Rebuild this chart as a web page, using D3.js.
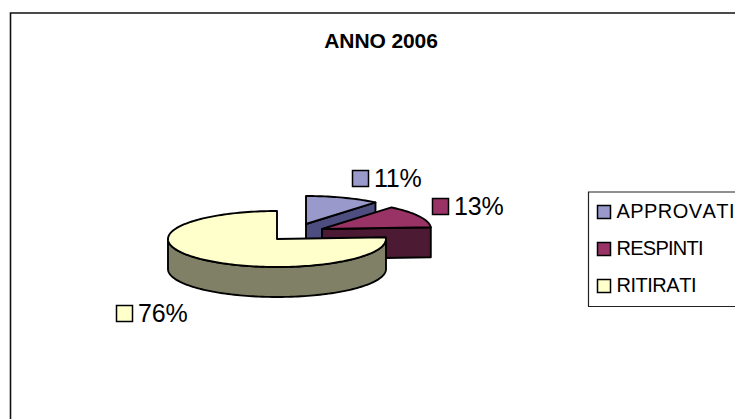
<!DOCTYPE html>
<html>
<head>
<meta charset="utf-8">
<script src="https://d3js.org/d3.v7.min.js"></script>
<style>
    html, body { margin: 0; padding: 0; background: #fff; }
    svg { display: block; }
    text { font-family: "Liberation Sans", Arial, sans-serif; fill: #000; }
</style>
</head>
<body>
<div id="graph-placeholder"></div>
<script>
var title = "ANNO 2006";
var categories = ["APPROVATI", "RESPINTI", "RITIRATI"];
var values = [11, 13, 76];
var topColors = ["#9999cc", "#993366", "#ffffcc"];
var sideColors = ["#4d4d80", "#4d1a33", "#808066"];

var width = 735, height = 419;

// pie geometry, the ellipse is the tilted disc of the 3d pie
var rx = 109, ry = 28, depth = 30,
    cx = 277, cy = 239;
var explode = [[29, -15], [45, -10], [0, 0]];
var labelPos = [[352.5, 170.5], [432.5, 198.5], [116.5, 305.5]];
var legendTextWidth = [118, 87, 80]; // the original spaces its letters unevenly

var topColor = d3.scaleOrdinal().domain(categories).range(topColors);
var sideColor = d3.scaleOrdinal().domain(categories).range(sideColors);

var svg = d3.select("#graph-placeholder")
    .append("svg")
    .attr("width", width)
    .attr("height", height);

// outer frame, runs off the right and bottom of the picture
svg.append("path")
    .attr("d", "M10.5," + height + "V13H" + width)
    .attr("fill", "none")
    .attr("stroke", "#111")
    .attr("stroke-width", 1.6);

svg.append("text")
    .attr("x", 381)
    .attr("y", 48)
    .attr("text-anchor", "middle")
    .attr("font-size", 21)
    .attr("font-weight", "bold")
    .attr("letter-spacing", -0.1)
    .text(title);

var pie = d3.pie().sort(null).value(function (d) { return d; });
var slices = pie(values);

var project = function (a, c) {
    return [c[0] + rx * Math.sin(a), c[1] - ry * Math.cos(a)];
};

var arcPoints = function (a0, a1, c, dy) {
    var n = Math.max(2, Math.ceil(Math.abs(a1 - a0) / 0.03));
    return d3.range(n + 1).map(function (i) {
        var p = project(a0 + (a1 - a0) * i / n, c);
        return [p[0], p[1] + (dy || 0)];
    });
};

var line = d3.line();
var pieG = svg.append("g")
    .attr("stroke", "#000")
    .attr("stroke-width", 1.9)
    .attr("stroke-linejoin", "round");

slices.forEach(function (s, i) {
    var c = [cx + explode[i][0], cy + explode[i][1]],
        name = categories[i];

    // cut face on the start side of the slice, seen when it looks to the right
    if (s.endAngle < Math.PI / 2) {
        var end = project(s.endAngle, c);
        pieG.append("path")
            .attr("d", line([c, end, [end[0], end[1] + depth], [c[0], c[1] + depth]]) + "Z")
            .attr("fill", sideColor(name));
    }

    // outer wall, only the front half of the disc shows
    var w0 = Math.max(s.startAngle, Math.PI / 2),
        w1 = Math.min(s.endAngle, 3 * Math.PI / 2);
    if (w0 < w1) {
        var wall = arcPoints(w0, w1, c, 0).concat(arcPoints(w1, w0, c, depth));
        pieG.append("path")
            .attr("d", line(wall) + "Z")
            .attr("fill", sideColor(name));
    }

    pieG.append("path")
        .attr("d", line([c].concat(arcPoints(s.startAngle, s.endAngle, c, 0))) + "Z")
        .attr("fill", topColor(name));
});

// data labels with their little keys
var total = d3.sum(values);
var labels = svg.append("g");
values.forEach(function (v, i) {
    labels.append("rect")
        .attr("x", labelPos[i][0])
        .attr("y", labelPos[i][1])
        .attr("width", 16)
        .attr("height", 16)
        .attr("fill", topColor(categories[i]))
        .attr("stroke", "#000")
        .attr("stroke-width", 1.5);
    labels.append("text")
        .attr("x", labelPos[i][0] + 21.5)
        .attr("y", labelPos[i][1] + 16)
        .attr("font-size", 25)
        .attr("letter-spacing", -0.2)
        .text(Math.round(v / total * 100) + "%");
});

// legend, also cut by the right edge
svg.append("path")
    .attr("d", "M" + width + ",192H588.5V306.5H" + width)
    .attr("fill", "none")
    .attr("stroke", "#222")
    .attr("stroke-width", 1.2);

var legendY = d3.scalePoint().domain(categories).range([212, 286]);
var legend = svg.selectAll(".legend-row")
    .data(categories)
    .enter()
    .append("g")
    .attr("class", "legend-row")
    .attr("transform", function (d) { return "translate(597," + legendY(d) + ")"; });

legend.append("rect")
    .attr("x", 0.5)
    .attr("y", -6.5)
    .attr("width", 13)
    .attr("height", 13)
    .attr("fill", function (d) { return topColor(d); })
    .attr("stroke", "#000")
    .attr("stroke-width", 1.5);

legend.append("text")
    .attr("x", 19.5)
    .attr("y", 6)
    .attr("font-size", 20)
    .attr("textLength", function (d, i) { return legendTextWidth[i]; })
    .attr("lengthAdjust", "spacing")
    .style("font-kerning", "none")
    .text(function (d) { return d; });
</script>
</body>
</html>
